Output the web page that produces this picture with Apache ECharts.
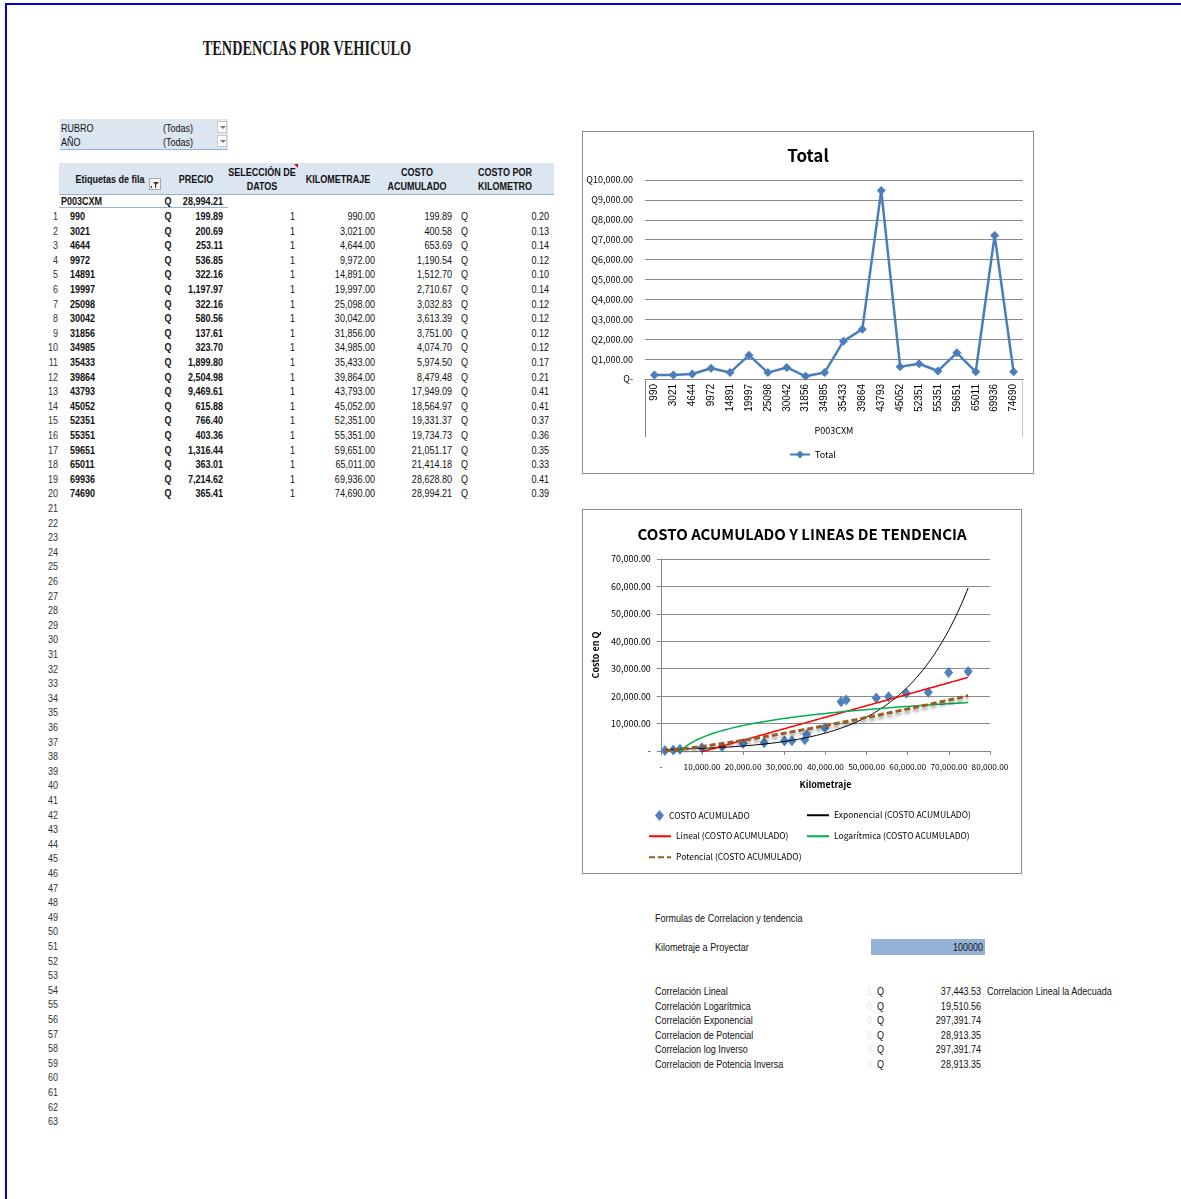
<!DOCTYPE html>
<html>
<head>
<meta charset="utf-8">
<title>Tendencias por vehiculo</title>
<script src="https://cdn.jsdelivr.net/npm/echarts/dist/echarts.min.js"></script>
<style>
  html, body { margin: 0; padding: 0; background: #fff; }
  body { width: 1181px; height: 1199px; position: relative; overflow: hidden;
         font-family: "Liberation Sans", Arial, sans-serif; }
  .t { position: absolute; white-space: nowrap; font-size: 11px; line-height: 12px; color: #111; }
  .b { font-weight: bold; }
  .box { position: absolute; }
  #chart1, #chart2 { position: absolute; border: 1px solid #8c8c8c; background: #fff; box-sizing: border-box; }
</style>
</head>
<body>
<div id="page"></div>
<div id="chart1" style="left:582px; top:131px; width:452px; height:343px;"></div>
<div id="chart2" style="left:582px; top:509px; width:440px; height:365px;"></div>
<script>
// ---- data ----
const kilometraje = [990, 3021, 4644, 9972, 14891, 19997, 25098, 30042, 31856, 34985,
                     35433, 39864, 43793, 45052, 52351, 55351, 59651, 65011, 69936, 74690];
const precio = [199.89, 200.69, 253.11, 536.85, 322.16, 1197.97, 322.16, 580.56, 137.61, 323.70,
                1899.80, 2504.98, 9469.61, 615.88, 766.40, 403.36, 1316.44, 363.01, 7214.62, 365.41];
const seleccion = [1, 1, 1, 1, 1, 1, 1, 1, 1, 1, 1, 1, 1, 1, 1, 1, 1, 1, 1, 1];
const costoAcumulado = [199.89, 400.58, 653.69, 1190.54, 1512.70, 2710.67, 3032.83, 3613.39, 3751.00, 4074.70,
                        5974.50, 8479.48, 17949.09, 18564.97, 19331.37, 19734.73, 21051.17, 21414.18, 28628.80, 28994.21];
const costoPorKm = [0.20, 0.13, 0.14, 0.12, 0.10, 0.14, 0.12, 0.12, 0.12, 0.12,
                    0.17, 0.21, 0.41, 0.41, 0.37, 0.36, 0.35, 0.33, 0.41, 0.39];
const etiquetasFila = kilometraje.map(String);
const vehiculo = 'P003CXM';
const totalPrecio = 28994.21;
const kmProyectar = 100000;
const corrLabels = ['Correlación Lineal', 'Correlación Logarítmica', 'Correlación Exponencial',
                    'Correlacion de Potencial', 'Correlacion log Inverso', 'Correlacion de Potencia Inversa'];
const corrFlags = [1, 0, 0, 0, 0, 0];
const corrValues = [37443.53, 19510.56, 297391.74, 28913.35, 297391.74, 28913.35];
const corrNote = 'Correlacion Lineal  la Adecuada';

// ---- helpers ----
const page = document.getElementById('page');
const fmt2 = v => v.toLocaleString('en-US', { minimumFractionDigits: 2, maximumFractionDigits: 2 });
const NARROW = 0.82; // narrow-face width factor for sheet cells
function txt(x, y, s, align, cls, extra, scale) {
  const d = document.createElement('div');
  d.className = 't' + (cls ? ' ' + cls : '');
  d.textContent = s;
  d.style.left = x + 'px';
  d.style.top = y + 'px';
  const tx = align === 'r' ? '-100%' : align === 'c' ? '-50%' : '0';
  const ox = align === 'r' ? '100%' : align === 'c' ? '50%' : '0';
  const sx = scale === undefined ? NARROW : scale;
  d.style.transformOrigin = ox + ' 50%';
  d.style.transform = 'translate(' + tx + ',-50%) scaleX(' + sx + ')';
  if (extra) Object.assign(d.style, extra);
  page.appendChild(d);
  return d;
}
function rect(x, y, w, h, style) {
  const d = document.createElement('div');
  d.className = 'box';
  Object.assign(d.style, { left: x + 'px', top: y + 'px', width: w + 'px', height: h + 'px' }, style || {});
  page.appendChild(d);
  return d;
}

// ---- sheet frame ----
rect(5, 3, 1176, 2, { background: '#0000d8' });
rect(5, 3, 2, 1196, { background: '#0000d8' });

// ---- sheet title ----
txt(307, 48, 'TENDENCIAS POR VEHICULO', 'c', 'b', {
  fontFamily: '"Liberation Serif", "DejaVu Serif", serif', fontSize: '21px', lineHeight: '22px', color: '#1a1a1a'
}, 0.68);

// ---- report filters ----
rect(60, 119, 168, 30, { background: '#dce6f1', borderBottom: '1px solid #95b3d7' });
txt(61, 128, 'RUBRO', 'l');
txt(61, 142, 'AÑO', 'l');
txt(163, 128, '(Todas)', 'l');
txt(163, 142, '(Todas)', 'l');
[121, 135].forEach(y => {
  const b = rect(217, y, 10, 12, { background: '#fbfbfb', border: '1px solid #c8c8c8', boxSizing: 'border-box' });
  b.innerHTML = '<div style="position:absolute;left:2px;top:4px;width:0;height:0;border-left:3px solid transparent;border-right:3px solid transparent;border-top:3px solid #777;"></div>';
});

// ---- pivot table header ----
rect(59, 163, 495, 31, { background: '#dce6f1', borderBottom: '1px solid #95b3d7' });
txt(110, 179, 'Etiquetas de fila', 'c', 'b');
const fb = rect(149, 178, 12, 12, { background: '#f4f4f4', border: '1px solid #a8a8a8', boxSizing: 'border-box' });
fb.innerHTML = '<div style="position:absolute;left:3px;top:3px;width:0;height:0;border-left:3px solid transparent;border-right:3px solid transparent;border-top:3px solid #333;"></div>' +
               '<div style="position:absolute;left:5px;top:5px;width:1px;height:4px;background:#333;"></div>' +
               '<div style="position:absolute;left:1px;top:7px;width:1px;height:2px;background:#333;"></div>';
txt(196, 179, 'PRECIO', 'c', 'b');
txt(262, 172, 'SELECCIÓN DE', 'c', 'b');
txt(262, 186, 'DATOS', 'c', 'b');
rect(294, 164, 0, 0, { borderLeft: '4px solid transparent', borderTop: '4px solid #e00000' });
txt(338, 179, 'KILOMETRAJE', 'c', 'b');
txt(417, 172, 'COSTO', 'c', 'b');
txt(417, 186, 'ACUMULADO', 'c', 'b');
txt(505, 172, 'COSTO POR', 'c', 'b');
txt(505, 186, 'KILOMETRO', 'c', 'b');

// ---- vehicle subtotal row ----
txt(61, 201, vehiculo, 'l', 'b');
txt(168, 201, 'Q', 'c', 'b');
txt(223, 201, fmt2(totalPrecio), 'r', 'b');
rect(59, 207, 169, 1, { background: '#95b3d7' });

// ---- detail rows and row numbers ----
const rowY = i => 216 + i * 14.6;
for (let i = 0; i < 63; i++) txt(58, rowY(i), String(i + 1), 'r', '', { color: '#333' });
kilometraje.forEach((km, i) => {
  const y = rowY(i);
  txt(70, y, etiquetasFila[i], 'l', 'b');
  txt(168, y, 'Q', 'c', 'b');
  txt(223, y, fmt2(precio[i]), 'r', 'b');
  txt(295, y, String(seleccion[i]), 'r');
  txt(375, y, fmt2(km), 'r');
  txt(452, y, fmt2(costoAcumulado[i]), 'r');
  txt(461, y, 'Q', 'l');
  txt(549, y, costoPorKm[i].toFixed(2), 'r');
});

// ---- projection block ----
txt(655, 918, 'Formulas de Correlacion y tendencia', 'l');
txt(655, 947, 'Kilometraje a Proyectar', 'l');
rect(871, 939, 114, 16, { background: '#95b3d7' });
txt(983, 947, String(kmProyectar), 'r');
corrLabels.forEach((lab, i) => {
  const y = 991 + i * 14.6;
  txt(655, y, lab, 'l');
  txt(872, y, String(corrFlags[i]), 'r', '', { color: '#e6e6e6' });
  txt(877, y, 'Q', 'l');
  txt(981, y, fmt2(corrValues[i]), 'r');
  if (i === 0) txt(987, y, corrNote, 'l');
});

// ---- chart 1: Total by km ----
const chartFont = '"Noto Sans CJK SC", "Liberation Sans", sans-serif';
const g1 = { left: 62, right: 10, top: 48, bottom: 94 };
const c1W = 450, c1H = 341;
const chart1 = echarts.init(document.getElementById('chart1'), null, { renderer: 'canvas' });
chart1.setOption({
  animation: false,
  title: { text: 'Total', left: 'center', top: 10,
           textStyle: { fontFamily: chartFont, fontSize: 17, fontWeight: 'bold', color: '#000' } },
  grid: g1,
  xAxis: {
    type: 'category', data: etiquetasFila, boundaryGap: true,
    axisLine: { lineStyle: { color: '#868686' } }, axisTick: { show: false },
    axisLabel: { rotate: 90, interval: 0, margin: 5, fontSize: 10, color: '#000',
                 fontFamily: '"Liberation Sans", Arial, sans-serif' },
    name: vehiculo, nameLocation: 'middle', nameGap: 47,
    nameTextStyle: { fontFamily: chartFont, fontSize: 9, color: '#000' }
  },
  yAxis: {
    type: 'value', min: 0, max: 10000, interval: 1000,
    axisLine: { show: false }, axisTick: { show: false },
    splitLine: { lineStyle: { color: '#8c8c8c', width: 1 } },
    axisLabel: { fontFamily: chartFont, fontSize: 9, color: '#000', margin: 12,
                 formatter: v => v === 0 ? 'Q-' : 'Q' + fmt2(v) }
  },
  legend: { data: ['Total'], left: 206, top: 318, padding: 0, itemWidth: 20, itemHeight: 10,
            textStyle: { fontFamily: chartFont, fontSize: 9, color: '#000' } },
  graphic: [
    { type: 'line', shape: { x1: g1.left + 0.5, y1: c1H - g1.bottom, x2: g1.left + 0.5, y2: c1H - g1.bottom + 58 },
      style: { stroke: '#868686', lineWidth: 1 } },
    { type: 'line', shape: { x1: c1W - g1.right - 0.5, y1: c1H - g1.bottom, x2: c1W - g1.right - 0.5, y2: c1H - g1.bottom + 58 },
      style: { stroke: '#c8c8c8', lineWidth: 1 } }
  ],
  series: [{
    name: 'Total', type: 'line', data: precio,
    symbol: 'diamond', symbolSize: 9, showAllSymbol: true,
    lineStyle: { width: 2.5, color: '#4a7ebb' }, itemStyle: { color: '#4a7ebb' }
  }]
});

// ---- chart 2: cumulative cost and trend lines ----
// least-squares fit of v = a + b*u
function ols(u, v) {
  const n = u.length;
  const mu = u.reduce((s, a) => s + a, 0) / n, mv = v.reduce((s, a) => s + a, 0) / n;
  let sxy = 0, sxx = 0;
  for (let i = 0; i < n; i++) { sxy += (u[i] - mu) * (v[i] - mv); sxx += (u[i] - mu) ** 2; }
  const b = sxy / sxx;
  return { a: mv - b * mu, b };
}
const lnX = kilometraje.map(Math.log), lnY = costoAcumulado.map(Math.log);
const fitLin = ols(kilometraje, costoAcumulado);
const fitLog = ols(lnX, costoAcumulado);
const fitExp = ols(kilometraje, lnY);
const fitPow = ols(lnX, lnY);
const trends = {
  lineal: x => fitLin.a + fitLin.b * x,
  logaritmica: x => fitLog.a + fitLog.b * Math.log(x),
  exponencial: x => Math.exp(fitExp.a) * Math.exp(fitExp.b * x),
  potencial: x => Math.exp(fitPow.a) * Math.pow(x, fitPow.b)
};
const xMin = Math.min(...kilometraje), xMax = Math.max(...kilometraje);
const xs = [];
for (let i = 0; i <= 200; i++) xs.push(xMin + (xMax - xMin) * i / 200);
const curve = f => xs.map(x => [x, f(x)]);

const chart2 = echarts.init(document.getElementById('chart2'), null, { renderer: 'canvas' });
const legendText = { fontFamily: chartFont, fontSize: 8.5, color: '#000' };
const lg = (name, left, top, extra) => Object.assign(
  { data: [name], left, top, padding: 0, itemWidth: 22, itemHeight: 10, selectedMode: false,
    itemStyle: { opacity: 0 }, textStyle: legendText }, extra || {});
chart2.setOption({
  animation: false,
  title: { text: 'COSTO ACUMULADO Y LINEAS DE TENDENCIA', left: 'center', top: 12,
           textStyle: { fontFamily: chartFont, fontSize: 15, fontWeight: 'bold', color: '#000' } },
  grid: { left: 74, right: 31, top: 49, bottom: 122 },
  xAxis: {
    type: 'value', min: 0, max: 80000, interval: 10000,
    axisLine: { show: true, onZero: false, lineStyle: { color: '#868686' } },
    axisTick: { show: true, length: 4, lineStyle: { color: '#868686' } },
    splitLine: { show: false },
    axisLabel: { fontFamily: chartFont, fontSize: 8.3, color: '#000', margin: 12,
                 formatter: v => v === 0 ? '-' : fmt2(v) },
    name: 'Kilometraje', nameLocation: 'middle', nameGap: 29,
    nameTextStyle: { fontFamily: chartFont, fontSize: 9, fontWeight: 'bold', color: '#000' }
  },
  yAxis: {
    type: 'value', min: 0, max: 70000, interval: 10000,
    axisLine: { show: true, lineStyle: { color: '#868686' } },
    axisTick: { show: true, length: 4, lineStyle: { color: '#868686' } },
    splitLine: { lineStyle: { color: '#8c8c8c', width: 1 } },
    axisLabel: { fontFamily: chartFont, fontSize: 9, color: '#000', margin: 10,
                 formatter: v => v === 0 ? '-' : fmt2(v) },
    name: 'Costo en Q', nameLocation: 'middle', nameGap: 54,
    nameTextStyle: { fontFamily: chartFont, fontSize: 9, fontWeight: 'bold', color: '#000' }
  },
  legend: [
    lg('COSTO ACUMULADO', 72, 300, { icon: 'diamond', itemWidth: 9, itemHeight: 11, itemGap: 0, itemStyle: {} }),
    lg('Exponencial (COSTO ACUMULADO)', 223, 301),
    lg('Lineal (COSTO ACUMULADO)', 65, 322),
    lg('Logarítmica (COSTO ACUMULADO)', 223, 322),
    lg('Potencial (COSTO ACUMULADO)', 65, 343)
  ],
  series: [
    { name: 'COSTO ACUMULADO', type: 'scatter', z: 2,
      data: kilometraje.map((x, i) => [x, costoAcumulado[i]]),
      symbol: 'diamond', symbolSize: [9, 11], itemStyle: { color: '#4f81bd', opacity: 1 } },
    { name: 'Exponencial (COSTO ACUMULADO)', type: 'line', z: 3, symbol: 'none', clip: true,
      data: curve(trends.exponencial), lineStyle: { color: '#000', width: 1 }, itemStyle: { color: '#000' } },
    { name: 'Lineal (COSTO ACUMULADO)', type: 'line', z: 3, symbol: 'none', clip: true,
      data: curve(trends.lineal), lineStyle: { color: '#ff0000', width: 1.5 }, itemStyle: { color: '#ff0000' } },
    { name: 'Logarítmica (COSTO ACUMULADO)', type: 'line', z: 3, symbol: 'none', clip: true,
      data: curve(trends.logaritmica), lineStyle: { color: '#00b050', width: 1.5 }, itemStyle: { color: '#00b050' } },
    { name: 'Potencial (COSTO ACUMULADO)', type: 'line', z: 4, symbol: 'none', clip: true,
      data: curve(trends.potencial),
      lineStyle: { color: '#9c5b1f', width: 3, type: [6, 3],
                   shadowColor: 'rgba(0,0,0,0.35)', shadowBlur: 3, shadowOffsetY: 3 },
      itemStyle: { color: '#9c5b1f' } }
  ]
});
</script>
</body>
</html>
